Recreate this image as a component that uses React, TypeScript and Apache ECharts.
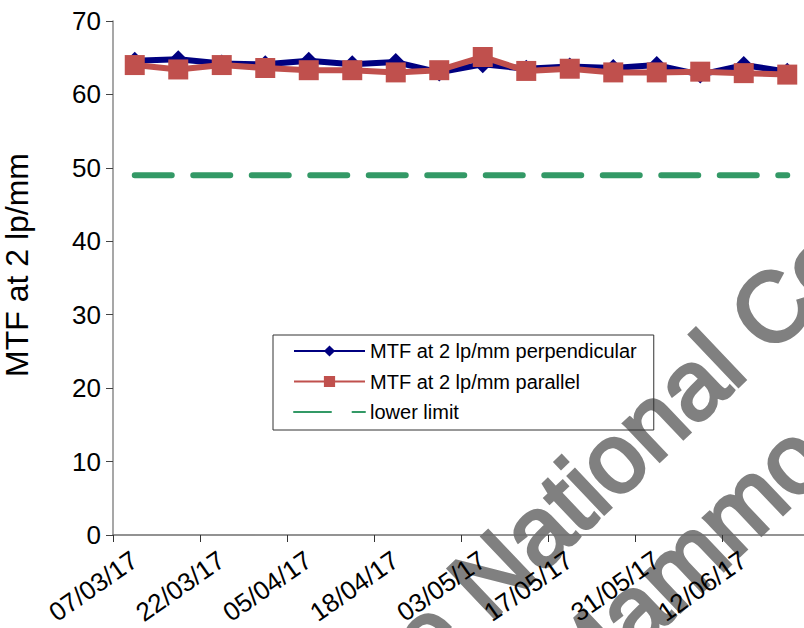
import { useEffect, useRef } from "react";
import * as echarts from "echarts";

// Session dates (every other one is labelled on the axis)
const dates = [
  "07/03/17", "14/03/17", "22/03/17", "29/03/17", "05/04/17", "11/04/17",
  "18/04/17", "25/04/17", "03/05/17", "10/05/17", "17/05/17", "24/05/17",
  "31/05/17", "06/06/17", "12/06/17", "19/06/17",
];

// MTF at 2 lp/mm, perpendicular to the anode-cathode axis
const perpendicular = [
  64.6, 64.8, 64.2, 64.1, 64.6, 64.1, 64.4, 63.0,
  64.1, 63.5, 63.8, 63.6, 64.0, 62.7, 64.0, 63.1,
];

// MTF at 2 lp/mm, parallel to the anode-cathode axis
const parallel = [
  64.0, 63.4, 64.0, 63.6, 63.3, 63.3, 63.0, 63.3,
  65.1, 63.2, 63.5, 63.0, 63.0, 63.1, 62.9, 62.7,
];

const lowerLimit = 49;

const yMin = 0;
const yMax = 70;
const yStep = 10;

const seriesNames = [
  "MTF at 2 lp/mm perpendicular",
  "MTF at 2 lp/mm parallel",
  "lower limit",
];

const FONT = '"Liberation Sans", Arial, sans-serif';

export default function App() {
  const ref = useRef<HTMLDivElement>(null);

  useEffect(() => {
    if (!ref.current) return;
    const chart = echarts.init(ref.current, null, { renderer: "svg" });

    // diagonal watermark, two lines
    const wmSize = 98;
    const rot = (43.5 * Math.PI) / 180;
    const c = Math.cos(rot);
    const s = Math.sin(rot);
    const lift = 0.35 * wmSize; // baseline -> central line
    const anchor = (bx: number, by: number) => ({ x: bx - lift * s, y: by - lift * c });
    const line1 = anchor(347, 758);
    const line2 = anchor(577, 710);
    const wmStyle = {
      fill: "#808080",
      stroke: "#808080",
      lineWidth: 3.5,
      font: `${wmSize}px ${FONT}`,
      textAlign: "left",
      textVerticalAlign: "middle",
      verticalAlign: "middle",
    };

    chart.setOption({
      animation: false,
      backgroundColor: "#ffffff",
      textStyle: { fontFamily: FONT },
      grid: {
        left: 113,
        top: 21,
        width: 696,
        height: 514,
        containLabel: false,
        outerBoundsMode: "none",
      },
      xAxis: {
        type: "category",
        data: dates,
        boundaryGap: true,
        axisLine: { lineStyle: { color: "#6f6f6f", width: 1.5 } },
        axisTick: { show: true, interval: 1, length: 7, lineStyle: { color: "#333", width: 1 } },
        axisLabel: {
          interval: 1,
          rotate: 35,
          margin: 22,
          fontSize: 26,
          color: "#000",
          fontFamily: FONT,
        },
        splitLine: { show: false },
      },
      yAxis: {
        type: "value",
        min: yMin,
        max: yMax,
        interval: yStep,
        name: "MTF at 2 lp/mm",
        nameLocation: "middle",
        nameRotate: 90,
        nameGap: 80,
        nameTextStyle: { fontSize: 32, color: "#000", fontFamily: FONT, padding: [0, 0, 0, 26] },
        axisLine: { show: true, lineStyle: { color: "#8a8a8a", width: 1.5 } },
        axisTick: { show: true, length: 7, lineStyle: { color: "#444", width: 1 } },
        axisLabel: { fontSize: 26, color: "#000", margin: 12, fontFamily: FONT },
        splitLine: { show: false },
      },
      legend: {
        orient: "vertical",
        left: 273,
        top: 335,
        padding: [6, 17, 8, 20],
        itemWidth: 71,
        itemHeight: 14,
        itemGap: 10.5,
        borderColor: "#333",
        borderWidth: 1,
        textStyle: { fontSize: 20, color: "#000", fontFamily: FONT, lineHeight: 20 },
        data: [
          { name: seriesNames[0] },
          { name: seriesNames[1] },
          { name: seriesNames[2], itemStyle: { color: "rgba(0,0,0,0)", borderWidth: 0, opacity: 0 } },
        ],
      },
      series: [
        {
          name: seriesNames[0],
          type: "line",
          data: perpendicular,
          symbol: "diamond",
          symbolSize: 18,
          lineStyle: { color: "#000080", width: 6 },
          itemStyle: { color: "#000080" },
          z: 2,
        },
        {
          name: seriesNames[1],
          type: "line",
          data: parallel,
          symbol: "rect",
          symbolSize: 20,
          lineStyle: { color: "#C0504D", width: 6 },
          itemStyle: { color: "#C0504D" },
          z: 3,
        },
        {
          name: seriesNames[2],
          type: "line",
          data: dates.map(() => lowerLimit),
          symbol: "none",
          clip: false,
          lineStyle: { color: "#339966", width: 6, type: [37, 21.5], dashOffset: 0, cap: "round" },
          itemStyle: { color: "#339966" },
          z: 1,
        },
      ],
      graphic: [
        {
          type: "text",
          x: line1.x,
          y: line1.y,
          rotation: rot,
          z: -1,
          silent: true,
          style: { ...wmStyle, text: "The National Co-ordinating Centre" },
        },
        {
          type: "text",
          x: line2.x,
          y: line2.y,
          rotation: rot,
          z: -1,
          silent: true,
          style: { ...wmStyle, text: "Mammography" },
        },
      ],
    });

    return () => chart.dispose();
  }, []);

  return (
    <div
      ref={ref}
      style={{ position: "fixed", left: 0, top: 0, width: 804, height: 628, background: "#fff" }}
    />
  );
}
